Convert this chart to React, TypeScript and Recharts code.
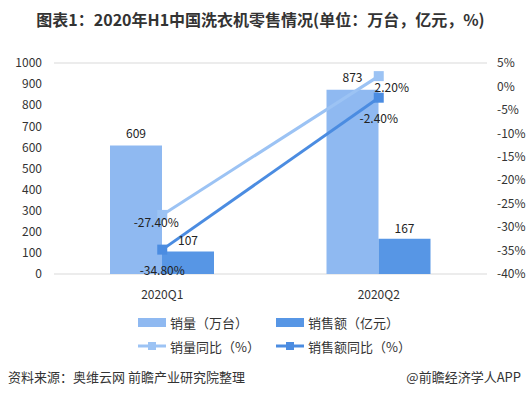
import React from 'react';
import { ComposedChart, Bar, Line, XAxis, YAxis, CartesianGrid, LabelList } from 'recharts';

const quarters = ['2020Q1', '2020Q2'];
const salesVolume = [609, 873];
const salesValue = [107, 167];
const volumeYoY = [-27.4, 2.2];
const valueYoY = [-34.8, -2.4];

const leftTicks = [0, 100, 200, 300, 400, 500, 600, 700, 800, 900, 1000];
const rightTicks = [5, 0, -5, -10, -15, -20, -25, -30, -35, -40];

const LIGHT = '#8fb9f1';
const DARK = '#5796e5';
const LIGHT_LINE = '#9cc3f4';
const DARK_LINE = '#4b8ce1';
const FONT = '"Noto Sans CJK SC", "Noto Sans", sans-serif';

const data = quarters.map((q, i) => ({
  q,
  vol: salesVolume[i],
  val: salesValue[i],
  volYoY: volumeYoY[i],
  valYoY: valueYoY[i],
}));

// label nudges for the line labels, per point
const volLabelShift = [
  { dx: -6, dy: 7 },
  { dx: 13, dy: 10 },
];
const valLabelShift = [
  { dx: 0, dy: 20 },
  { dx: 0, dy: 20 },
];

const SquareDot = (color: string) => (props: any) => {
  const { cx, cy, index } = props;
  if (cx == null || cy == null) return <g key={index} />;
  return <rect key={index} x={cx - 5} y={cy - 5} width={10} height={10} fill={color} />;
};

const lineLabel = (shift: { dx: number; dy: number }[]) => (props: any) => {
  const { x, y, value, index } = props;
  const s = shift[index] || { dx: 0, dy: 0 };
  return (
    <text
      x={x + s.dx}
      y={y + s.dy}
      textAnchor="middle"
      dominantBaseline="central"
      fontSize={12}
      fontFamily={FONT}
      fill="#222"
    >
      {`${Number(value).toFixed(2)}%`}
    </text>
  );
};

const App: React.FC = () => {
  return (
    <div
      style={{
        position: 'absolute',
        left: 0,
        top: 0,
        width: 531,
        height: 398,
        background: '#fff',
        fontFamily: FONT,
        color: '#333',
      }}
    >
      <div
        style={{
          position: 'absolute',
          top: 8,
          left: 0,
          width: 521,
          textAlign: 'center',
          fontSize: 16,
          fontWeight: 'bold',
          color: '#333',
          lineHeight: '22px',
        }}
      >
        图表1：2020年H1中国洗衣机零售情况(单位：万台，亿元，%)
      </div>

      <div style={{ position: 'absolute', left: 0, top: 0 }}>
        <ComposedChart
          width={531}
          height={302}
          data={data}
          margin={{ top: 63, right: 0, bottom: 0, left: 0 }}
          barGap={0}
        >
          <CartesianGrid vertical={false} stroke="#d9d9d9" />
          <XAxis
            dataKey="q"
            axisLine={false}
            tickLine={false}
            height={28}
            tickMargin={10}
            tick={{ fontSize: 12, fill: '#333', fontFamily: FONT }}
          />
          <YAxis
            yAxisId="left"
            domain={[0, 1000]}
            ticks={leftTicks}
            width={54}
            axisLine={false}
            tickLine={false}
            tickMargin={6}
            tick={{ fontSize: 12, fill: '#333', fontFamily: FONT }}
          />
          <YAxis
            yAxisId="right"
            orientation="right"
            domain={[-40, 5]}
            ticks={rightTicks}
            width={44}
            axisLine={false}
            tickLine={false}
            tickMargin={4}
            tickFormatter={(v) => `${v}%`}
            tick={{ fontSize: 12, fill: '#333', fontFamily: FONT }}
          />
          <Bar yAxisId="left" dataKey="vol" fill={LIGHT} barSize={52} isAnimationActive={false}>
            <LabelList dataKey="vol" position="top" offset={8} fontSize={12} fill="#222" fontFamily={FONT} />
          </Bar>
          <Bar yAxisId="left" dataKey="val" fill={DARK} barSize={52} isAnimationActive={false}>
            <LabelList dataKey="val" position="top" offset={6} fontSize={12} fill="#222" fontFamily={FONT} />
          </Bar>
          <Line
            yAxisId="right"
            dataKey="volYoY"
            stroke={LIGHT_LINE}
            strokeWidth={3}
            dot={SquareDot(LIGHT_LINE)}
            activeDot={false}
            isAnimationActive={false}
          >
            <LabelList dataKey="volYoY" content={lineLabel(volLabelShift)} />
          </Line>
          <Line
            yAxisId="right"
            dataKey="valYoY"
            stroke={DARK_LINE}
            strokeWidth={3}
            dot={SquareDot(DARK_LINE)}
            activeDot={false}
            isAnimationActive={false}
          >
            <LabelList dataKey="valYoY" content={lineLabel(valLabelShift)} />
          </Line>
        </ComposedChart>
      </div>

      {/* legend */}
      <div style={{ position: 'absolute', left: 138, top: 312, fontSize: 13, color: '#333' }}>
        <div style={{ display: 'flex', alignItems: 'center', height: 20 }}>
          <span style={{ display: 'inline-block', width: 28, height: 9, background: LIGHT, marginRight: 4 }} />
          <span style={{ width: 106 }}>销量（万台）</span>
          <span style={{ display: 'inline-block', width: 28, height: 9, background: DARK, marginRight: 4 }} />
          <span>销售额（亿元）</span>
        </div>
        <div style={{ display: 'flex', alignItems: 'center', height: 20, marginTop: 4 }}>
          <svg width={28} height={10} style={{ marginRight: 4 }}>
            <line x1={0} y1={5} x2={28} y2={5} stroke={LIGHT_LINE} strokeWidth={3} />
            <rect x={10} y={1} width={8} height={8} fill={LIGHT_LINE} />
          </svg>
          <span style={{ width: 106 }}>销量同比（%）</span>
          <svg width={28} height={10} style={{ marginRight: 4 }}>
            <line x1={0} y1={5} x2={28} y2={5} stroke={DARK_LINE} strokeWidth={3} />
            <rect x={10} y={1} width={8} height={8} fill={DARK_LINE} />
          </svg>
          <span>销售额同比（%）</span>
        </div>
      </div>

      {/* footer */}
      <div style={{ position: 'absolute', left: 8, top: 368, fontSize: 13, color: '#333', lineHeight: '18px' }}>
        资料来源：奥维云网 前瞻产业研究院整理
      </div>
      <div
        style={{
          position: 'absolute',
          right: 10,
          top: 368,
          fontSize: 13,
          color: '#333',
          lineHeight: '18px',
        }}
      >
        @前瞻经济学人APP
      </div>
    </div>
  );
};

export default App;
